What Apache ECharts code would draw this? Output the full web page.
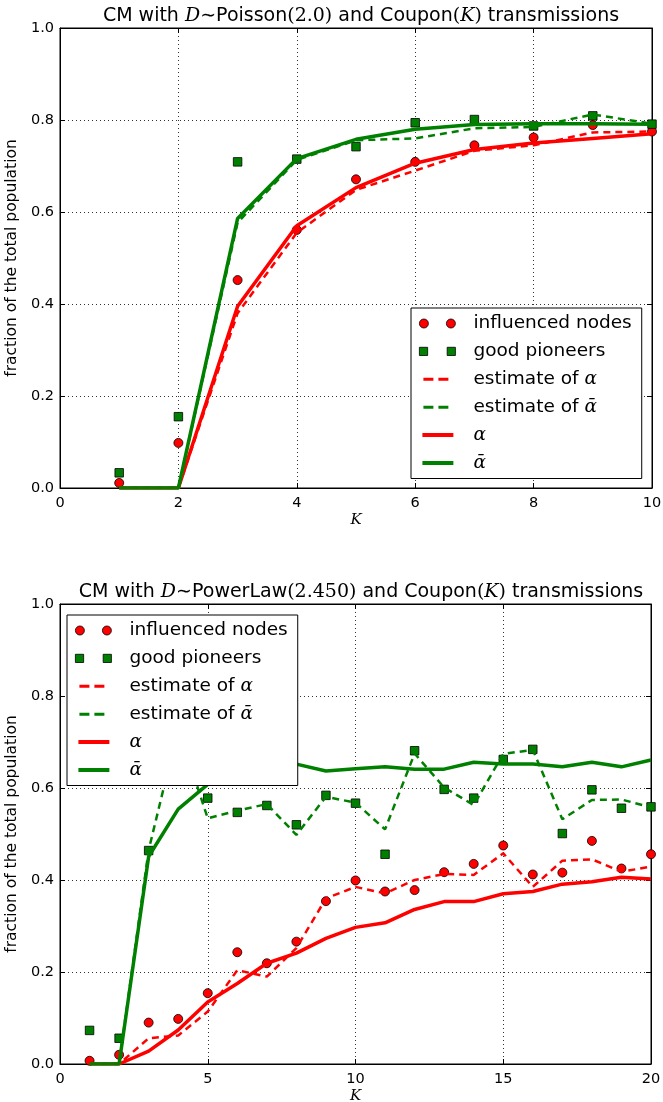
<!DOCTYPE html>
<html><head><meta charset="utf-8">
<script src="https://cdn.jsdelivr.net/npm/echarts/dist/echarts.min.js"></script>
<style>html,body{margin:0;padding:0;background:#fff}#c{width:663px;height:1102px}</style>
</head><body><div id="c"></div>
<script>
// ---- Top chart: Poisson(2.0), K = 1..10 ----
const kTop = [1,2,3,4,5,6,7,8,9,10];
const topInfluenced = [0.011,0.098,0.452,0.561,0.671,0.709,0.745,0.762,0.789,0.775];
const topPioneers   = [0.033,0.155,0.709,0.715,0.742,0.794,0.801,0.787,0.809,0.791];
const topEstAlpha   = [0,0,0.380,0.555,0.648,0.690,0.733,0.745,0.773,0.775];
const topEstAlphaBar= [0,0,0.577,0.713,0.756,0.760,0.782,0.785,0.812,0.792];
const topAlpha      = [0,0,0.395,0.570,0.653,0.706,0.736,0.750,0.760,0.770];
const topAlphaBar   = [0,0,0.586,0.716,0.758,0.780,0.790,0.792,0.792,0.791];

// ---- Bottom chart: PowerLaw(2.450), K = 1..20 ----
const kBot = [1,2,3,4,5,6,7,8,9,10,11,12,13,14,15,16,17,18,19,20];
const botInfluenced = [0.007,0.020,0.090,0.098,0.154,0.243,0.219,0.266,0.354,0.399,0.375,0.378,0.417,0.435,0.475,0.412,0.416,0.485,0.425,0.456];
const botPioneers   = [0.073,0.056,0.464,0.700,0.578,0.547,0.562,0.520,0.584,0.567,0.456,0.681,0.597,0.578,0.662,0.684,0.501,0.596,0.556,0.559];
const botEstAlpha   = [0,0,0.056,0.062,0.114,0.204,0.190,0.252,0.360,0.385,0.371,0.400,0.413,0.411,0.458,0.385,0.442,0.445,0.418,0.429];
const botEstAlphaBar= [0,0,0.465,0.730,0.534,0.551,0.565,0.498,0.581,0.568,0.510,0.675,0.601,0.563,0.674,0.683,0.532,0.574,0.575,0.558];
const botAlpha      = [0,0,0.028,0.074,0.135,0.175,0.219,0.241,0.273,0.297,0.307,0.336,0.353,0.353,0.370,0.375,0.391,0.396,0.406,0.402];
const botAlphaBar   = [0,0,0.451,0.554,0.608,0.635,0.655,0.652,0.637,0.642,0.646,0.641,0.641,0.656,0.652,0.652,0.646,0.656,0.646,0.661];

const names = ['influenced nodes','good pioneers','estimate of \u03b1','estimate of \u1fb1','\u03b1','\u1fb1'];
const titleTop = ['CM with ','D','\u223cPoisson','(2.0)',' and Coupon','(','K',')',' transmissions'];
const titleBot = ['CM with ','D','\u223cPowerLaw','(2.450)',' and Coupon','(','K',')',' transmissions'];

const RED = '#ff0000', GREEN = '#008000';
const SANS = '"DejaVu Sans", sans-serif';
const SERIF = '"DejaVu Serif", "Liberation Serif", serif';

function zip(xs, ys){ return xs.map((x,i)=>[x, ys[i]]); }

function titleRich(parts){
  const styles = ['n','m','n','p','n','p','m','p','n'];
  return parts.map((t,i)=>'{'+styles[i]+'|'+t+'}').join('');
}
const titleRichStyles = {
  n:{fontFamily:SANS,fontSize:19,fontWeight:'normal',color:'#000'},
  m:{fontFamily:SERIF,fontStyle:'italic',fontWeight:'normal',fontSize:19,color:'#000'},
  p:{fontFamily:SERIF,fontWeight:'normal',fontSize:19,color:'#000'}
};

const circlePath = 'path://M0,4.5a4.5,4.5 0 1,0 9,0a4.5,4.5 0 1,0 -9,0M27,4.5a4.5,4.5 0 1,0 9,0a4.5,4.5 0 1,0 -9,0';
const squarePath = 'path://M0.5,0.5h8v8h-8zM27.5,0.5h8v8h-8z';
const dashPath   = 'path://M0,3h0.01v3h-0.01zM4,3h10v3h-10zM19,3h10v3h-10zM36,3h0.01v3h-0.01zM0,0h0.01v0.01h-0.01zM0,9h0.01v0.01h-0.01z';
const solidPath  = 'path://M3,2.5h31v4h-31zM0,0h0.01v0.01h-0.01zM36,9h0.01v0.01h-0.01z';

function legendCfg(left, top){
  return {
    orient:'vertical', left:left, top:top,
    padding:[6,10,6,8], itemGap:8.9, itemWidth:36, itemHeight:9,
    backgroundColor:'#fff', borderColor:'#000', borderWidth:1, borderRadius:0,
    selectedMode:false,
    data:[
      {name:names[0], icon:circlePath, itemStyle:{color:RED,borderColor:'#000',borderWidth:0.8}},
      {name:names[1], icon:squarePath, itemStyle:{color:GREEN,borderColor:'#000',borderWidth:0.8}},
      {name:names[2], icon:dashPath, itemStyle:{color:RED,borderWidth:0}},
      {name:names[3], icon:dashPath, itemStyle:{color:GREEN,borderWidth:0}},
      {name:names[4], icon:solidPath, itemStyle:{color:RED,borderWidth:0}},
      {name:names[5], icon:solidPath, itemStyle:{color:GREEN,borderWidth:0}}
    ],
    formatter: function(n){
      const i = n.indexOf('\u03b1') >= 0 ? n.indexOf('\u03b1') : n.indexOf('\u1fb1');
      if (i < 0) return '{n|'+n+'}';
      const pre = n.slice(0,i), g = n.slice(i);
      return (pre ? '{n|'+pre+'}' : '{n|}') + '{m|'+g+'}';
    },
    textStyle:{
      rich:{
        n:{fontFamily:SANS,fontSize:18.5,color:'#000',lineHeight:20},
        m:{fontFamily:SERIF,fontStyle:'italic',fontSize:18.5,color:'#000',lineHeight:20}
      },
      padding:[0,0,0,13]
    }
  };
}

function series(gi, xs, inf, pio, ea, eab, a, ab){
  const base = {xAxisIndex:gi*2, yAxisIndex:gi*2};
  return [
    Object.assign({type:'scatter',name:names[0],data:zip(xs,inf),symbol:'circle',symbolSize:9,clip:false,
      itemStyle:{color:RED,borderColor:'#000',borderWidth:0.8,opacity:1}},base),
    Object.assign({type:'scatter',name:names[1],data:zip(xs,pio),symbol:'rect',symbolSize:8.5,clip:false,
      itemStyle:{color:GREEN,borderColor:'#000',borderWidth:0.8,opacity:1}},base),
    Object.assign({type:'line',name:names[2],data:zip(xs,ea),showSymbol:false,symbol:'none',
      lineStyle:{color:RED,width:2.5,type:[7,5]},itemStyle:{color:RED}},base),
    Object.assign({type:'line',name:names[3],data:zip(xs,eab),showSymbol:false,symbol:'none',
      lineStyle:{color:GREEN,width:2.5,type:[7,5]},itemStyle:{color:GREEN}},base),
    Object.assign({type:'line',name:names[4],data:zip(xs,a),showSymbol:false,symbol:'none',
      lineStyle:{color:RED,width:3.5},itemStyle:{color:RED}},base),
    Object.assign({type:'line',name:names[5],data:zip(xs,ab),showSymbol:false,symbol:'none',
      lineStyle:{color:GREEN,width:3.5},itemStyle:{color:GREEN}},base)
  ];
}

const tickStyle = {show:true,inside:true,length:5,lineStyle:{color:'#000',width:1}};
const splitStyle = {show:true,lineStyle:{color:'#000',width:1,type:[1,3],opacity:0.8}};
const labelStyle = {fontFamily:SANS,fontSize:14.5,color:'#000'};

function xAxes(gi, max, interval){
  return [
    {type:'value',gridIndex:gi,position:'bottom',min:0,max:max,interval:interval,
     axisLine:{show:true,onZero:false,lineStyle:{color:'#000',width:1}},axisTick:tickStyle,
     axisLabel:Object.assign({margin:8,formatter:v=>String(v)},labelStyle),splitLine:splitStyle,
     name:'K',nameLocation:'middle',nameGap:25,
     nameTextStyle:{fontFamily:SERIF,fontStyle:'italic',fontSize:15,color:'#000'}},
    {type:'value',gridIndex:gi,position:'top',min:0,max:max,interval:interval,
     axisLine:{show:true,onZero:false,lineStyle:{color:'#000',width:1}},axisTick:tickStyle,
     axisLabel:{show:false},splitLine:{show:false}}
  ];
}
function yAxes(gi){
  return [
    {type:'value',gridIndex:gi,position:'left',min:0,max:1,interval:0.2,
     axisLine:{show:true,onZero:false,lineStyle:{color:'#000',width:1}},axisTick:tickStyle,
     axisLabel:Object.assign({margin:6,formatter:v=>v.toFixed(1)},labelStyle),splitLine:splitStyle,
     name:'fraction of the total population',nameLocation:'middle',nameGap:40,nameRotate:90,
     nameTextStyle:{fontFamily:SANS,fontSize:15.5,color:'#000'}},
    {type:'value',gridIndex:gi,position:'right',min:0,max:1,interval:0.2,
     axisLine:{show:true,onZero:false,lineStyle:{color:'#000',width:1}},axisTick:tickStyle,
     axisLabel:{show:false},splitLine:{show:false}}
  ];
}

const chart = echarts.init(document.getElementById('c'), null, {renderer:'canvas'});
chart.setOption({
  backgroundColor:'#fff',
  animation:false,
  title:[
    {text:titleRich(titleTop),left:356,top:2,textAlign:'center',textStyle:{fontWeight:'normal',rich:titleRichStyles}},
    {text:titleRich(titleBot),left:356,top:578,textAlign:'center',textStyle:{fontWeight:'normal',rich:titleRichStyles}}
  ],
  grid:[
    {left:60,top:28,width:592,height:460,show:true,borderColor:'#000',borderWidth:1,backgroundColor:'transparent',containLabel:false,outerBoundsMode:'none'},
    {left:60,top:604,width:591,height:460,show:true,borderColor:'#000',borderWidth:1,backgroundColor:'transparent',containLabel:false,outerBoundsMode:'none'}
  ],
  xAxis:[].concat(xAxes(0,10,2), xAxes(1,20,5)),
  yAxis:[].concat(yAxes(0), yAxes(1)),
  legend:[legendCfg(411,308), legendCfg(67,615)],
  series:[].concat(
    series(0,kTop,topInfluenced,topPioneers,topEstAlpha,topEstAlphaBar,topAlpha,topAlphaBar),
    series(1,kBot,botInfluenced,botPioneers,botEstAlpha,botEstAlphaBar,botAlpha,botAlphaBar)
  )
});
</script>
</body></html>
